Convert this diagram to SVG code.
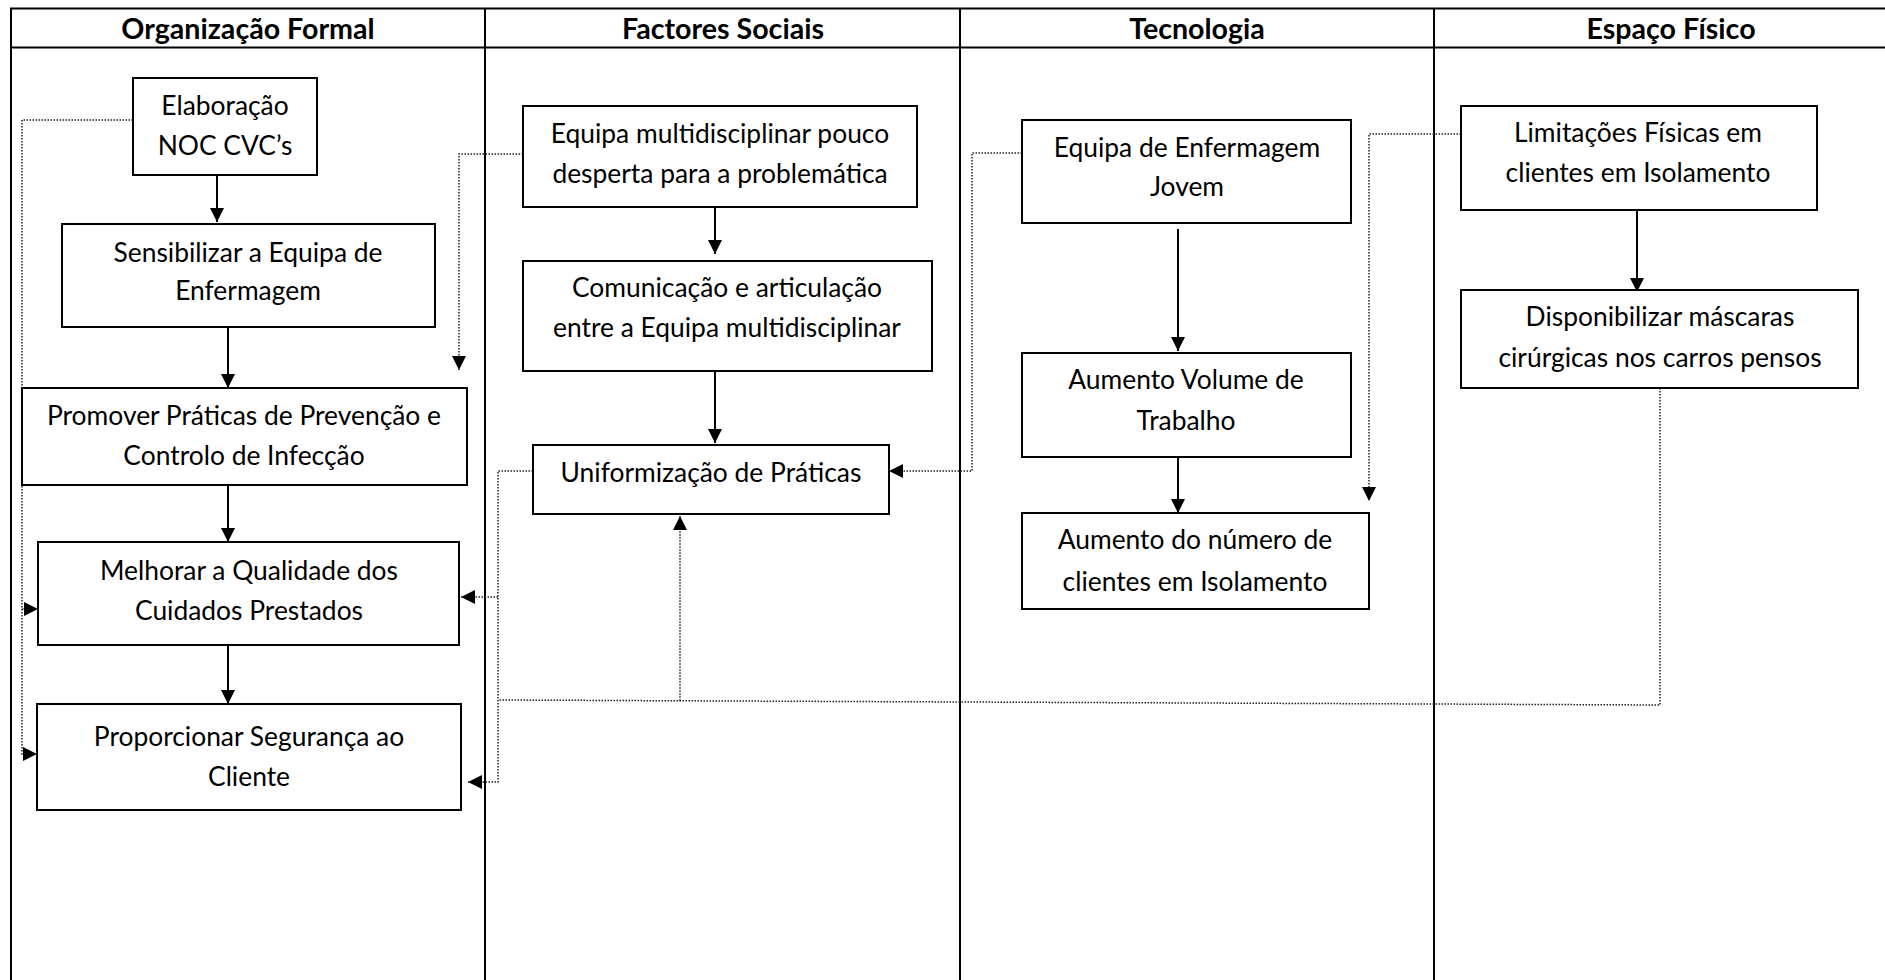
<svg xmlns="http://www.w3.org/2000/svg" width="1885" height="980" viewBox="0 0 1885 980">
<style>
.grid{stroke:#000;stroke-width:2;fill:none}
.box{fill:#fff;stroke:#000;stroke-width:2}
.t{font-family:Lato,"Liberation Sans",sans-serif;font-size:26.4px;fill:#000;text-anchor:middle}
.h{font-family:Lato,"Liberation Sans",sans-serif;font-size:28.6px;font-weight:bold;fill:#000;text-anchor:middle}
.solid{stroke:#000;stroke-width:2;fill:none}
.dot{stroke:#222;stroke-width:1.5;stroke-dasharray:1.5 1.5;fill:none}
</style>
<defs>
<marker id="ah" viewBox="0 0 14 14" refX="14" refY="7" markerWidth="14" markerHeight="14" markerUnits="userSpaceOnUse" orient="auto">
<path d="M0,0 L14,7 L0,14 Z" fill="#000"/>
</marker>
</defs>
<rect width="1885" height="980" fill="#fff"/>
<g id="table">
<path class="grid" d="M11,980 V8.5 H1885 M11,47.5 H1885 M485,8.5 V980 M960,8.5 V980 M1434,8.5 V980"/>
<text class="h" x="248" y="38.5">Organização Formal</text>
<text class="h" x="723" y="38.5">Factores Sociais</text>
<text class="h" x="1197" y="38.5">Tecnologia</text>
<text class="h" x="1671" y="38.5">Espaço Físico</text>
</g>
<g id="connectors">
<path class="solid" marker-end="url(#ah)" d="M217,175 V222"/>
<path class="solid" marker-end="url(#ah)" d="M228,327 V388"/>
<path class="solid" marker-end="url(#ah)" d="M228,485 V542"/>
<path class="solid" marker-end="url(#ah)" d="M228,645 V704"/>
<path class="solid" marker-end="url(#ah)" d="M715,207 V254"/>
<path class="solid" marker-end="url(#ah)" d="M715,371 V443"/>
<path class="solid" marker-end="url(#ah)" d="M1178,229 V351"/>
<path class="solid" marker-end="url(#ah)" d="M1178,457 V513"/>
<path class="solid" marker-end="url(#ah)" d="M1637,210 V292"/>
<path class="dot" marker-end="url(#ah)" d="M133,120 H22 V754 H37"/>
<path class="dot" marker-end="url(#ah)" d="M22,609 H38"/>
<path class="dot" marker-end="url(#ah)" d="M523,154 H459 V370"/>
<path class="dot" marker-end="url(#ah)" d="M533,471 H498 V782 H468"/>
<path class="dot" marker-end="url(#ah)" d="M498,597 H461"/>
<path class="dot" marker-end="url(#ah)" d="M1022,153 H972 V471 H889"/>
<path class="dot" marker-end="url(#ah)" d="M1461,134 H1369 V501"/>
<path class="dot" d="M1660,388 V705 L498,700"/>
<path class="dot" marker-end="url(#ah)" d="M680,700.8 V516"/>
</g>
<g id="n1"><rect class="box" x="133" y="78" width="184" height="97"/><text class="t" x="225" y="115">Elaboração</text><text class="t" x="225" y="155">NOC CVC’s</text></g>
<g id="n2"><rect class="box" x="62" y="224" width="373" height="103"/><text class="t" x="248" y="262">Sensibilizar a Equipa de</text><text class="t" x="248" y="300">Enfermagem</text></g>
<g id="n3"><rect class="box" x="22" y="388" width="445" height="97"/><text class="t" x="244" y="425">Promover Práticas de Prevenção e</text><text class="t" x="244" y="465">Controlo de Infecção</text></g>
<g id="n4"><rect class="box" x="38" y="542" width="421" height="103"/><text class="t" x="249" y="580">Melhorar a Qualidade dos</text><text class="t" x="249" y="620">Cuidados Prestados</text></g>
<g id="n5"><rect class="box" x="37" y="704" width="424" height="106"/><text class="t" x="249" y="746">Proporcionar Segurança ao</text><text class="t" x="249" y="786">Cliente</text></g>
<g id="n6"><rect class="box" x="523" y="106" width="394" height="101"/><text class="t" x="720" y="143">Equipa multidisciplinar pouco</text><text class="t" x="720" y="183">desperta para a problemática</text></g>
<g id="n7"><rect class="box" x="523" y="261" width="409" height="110"/><text class="t" x="727" y="297">Comunicação e articulação</text><text class="t" x="727" y="337">entre a Equipa multidisciplinar</text></g>
<g id="n8"><rect class="box" x="533" y="445" width="356" height="69"/><text class="t" x="711" y="482">Uniformização de Práticas</text></g>
<g id="n9"><rect class="box" x="1022" y="120" width="329" height="103"/><text class="t" x="1187" y="157">Equipa de Enfermagem</text><text class="t" x="1187" y="196">Jovem</text></g>
<g id="n10"><rect class="box" x="1022" y="353" width="329" height="104"/><text class="t" x="1186" y="389">Aumento Volume de</text><text class="t" x="1186" y="430">Trabalho</text></g>
<g id="n11"><rect class="box" x="1022" y="513" width="347" height="96"/><text class="t" x="1195" y="549">Aumento do número de</text><text class="t" x="1195" y="591">clientes em Isolamento</text></g>
<g id="n12"><rect class="box" x="1461" y="106" width="356" height="104"/><text class="t" x="1638" y="142">Limitações Físicas em</text><text class="t" x="1638" y="182">clientes em Isolamento</text></g>
<g id="n13"><rect class="box" x="1461" y="290" width="397" height="98"/><text class="t" x="1660" y="326">Disponibilizar máscaras</text><text class="t" x="1660" y="367">cirúrgicas nos carros pensos</text></g>
</svg>
